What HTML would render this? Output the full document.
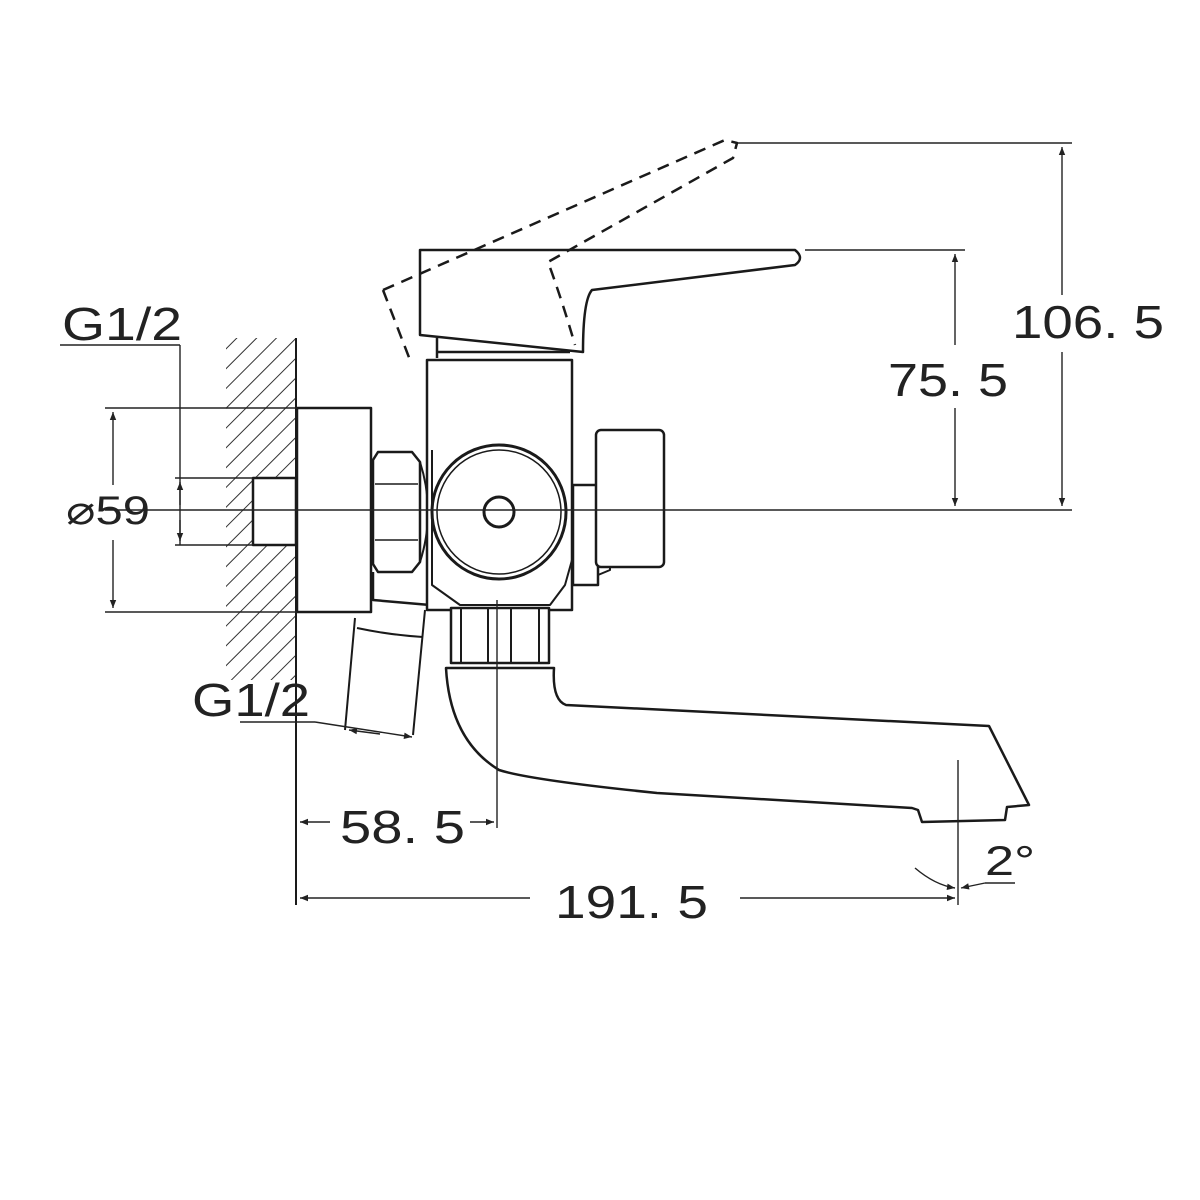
<!DOCTYPE html>
<html><head><meta charset="utf-8"><style>
html,body{margin:0;padding:0;background:#fff;}
svg{display:block;}
text{font-family:"Liberation Sans",sans-serif;fill:#222;}
</style></head><body>
<svg width="1200" height="1200" viewBox="0 0 1200 1200" xmlns="http://www.w3.org/2000/svg">
<defs>
<pattern id="h" patternUnits="userSpaceOnUse" width="14" height="14" patternTransform="rotate(45)">
<line x1="0" y1="0" x2="0" y2="14" stroke="#333" stroke-width="2"/>
</pattern>
<marker id="a" viewBox="0 0 10 10" refX="10" refY="5" markerWidth="12" markerHeight="8" orient="auto-start-reverse" markerUnits="userSpaceOnUse"><path d="M0,1 L10,5 L0,9 z" fill="#222"/></marker>
</defs>
<g stroke="#1a1a1a" fill="none" stroke-width="2.5" stroke-linejoin="round">
<rect x="226" y="338" width="70" height="342" fill="url(#h)" stroke="none"/>
<rect x="253" y="478" width="43" height="67" fill="#fff" stroke="#1a1a1a"/>
<line x1="296" y1="338" x2="296" y2="905" stroke-width="2"/>
<rect x="297" y="408" width="74" height="204" fill="#fff"/>
<path d="M373,460 L378,452 L412,452 L420,462 L420,562 L412,572 L378,572 L373,564 Z" fill="#fff"/>
<line x1="375" y1="484" x2="418" y2="484" stroke-width="1.5"/>
<line x1="375" y1="540" x2="418" y2="540" stroke-width="1.5"/>
<path d="M420,462 Q436,512 420,562" stroke-width="2"/>
<path d="M373,572 L373,600 L430,605 L448,600" />
<path d="M355,618 L345,730 M425,610 L413,735" stroke-width="2"/>
<path d="M357,628 Q390,635 423,637" stroke-width="2"/>
<rect x="427" y="360" width="145" height="250" fill="#fff"/>
<circle cx="499" cy="512" r="67" fill="#fff" stroke-width="3"/>
<circle cx="499" cy="512" r="62" stroke-width="1.5"/>
<circle cx="499" cy="512" r="15" stroke-width="3"/>
<path d="M432,450 L432,585 L460,605 L550,605 L565,585 L572,560" stroke-width="2"/>
<rect x="573" y="485" width="25" height="100" fill="#fff"/>
<path d="M598,494 Q610,505 610,530 L610,570 L598,575" stroke-width="2"/>
<rect x="596" y="430" width="68" height="137" rx="5" fill="#fff"/>
<rect x="451" y="608" width="98" height="55" fill="#fff"/>
<line x1="461" y1="608" x2="461" y2="663" stroke-width="2"/>
<line x1="488" y1="608" x2="488" y2="663" stroke-width="2"/>
<line x1="511" y1="608" x2="511" y2="663" stroke-width="2"/>
<line x1="539" y1="608" x2="539" y2="663" stroke-width="2"/>
<path d="M446,668 L554,668 Q552,700 566,705 L989,726 L1029,805 L1007,807 L1005,820 L922,822 L918,810 L912,808 L657,793 Q530,780 499,770 Q450,740 446,668 Z" fill="#fff"/>
<path d="M420,250 L795,250 Q805,258 795,265 L592,290 Q583,300 583,352 L420,335 Z" fill="#fff"/>
<line x1="437" y1="338" x2="437" y2="358"/>
<line x1="437" y1="352" x2="570" y2="352"/>
<path d="M383,290 L725,140 L737,143 L733,158 L548,262 Q562,300 575,345 M383,290 L410,360" stroke-dasharray="12,8" stroke-width="2.5"/>
</g>
<g stroke="#222" stroke-width="1.4" fill="none">
<line x1="105" y1="510" x2="1072" y2="510"/>
<line x1="738" y1="143" x2="1072" y2="143"/>
<line x1="805" y1="250" x2="965" y2="250"/>
<line x1="955" y1="254" x2="955" y2="345" marker-start="url(#a)"/>
<line x1="955" y1="408" x2="955" y2="506" marker-end="url(#a)"/>
<line x1="1062" y1="147" x2="1062" y2="295" marker-start="url(#a)"/>
<line x1="1062" y1="352" x2="1062" y2="506" marker-end="url(#a)"/>
<line x1="105" y1="408" x2="297" y2="408"/>
<line x1="105" y1="612" x2="297" y2="612"/>
<line x1="113" y1="412" x2="113" y2="485" marker-start="url(#a)"/>
<line x1="113" y1="540" x2="113" y2="608" marker-end="url(#a)"/>
<line x1="60" y1="345" x2="180" y2="345"/>
<line x1="180" y1="345" x2="180" y2="545"/>
<line x1="175" y1="478" x2="253" y2="478"/>
<line x1="175" y1="545" x2="253" y2="545"/>
<line x1="180" y1="482" x2="180" y2="505" marker-start="url(#a)"/>
<line x1="180" y1="520" x2="180" y2="541" marker-end="url(#a)"/>
<line x1="240" y1="722" x2="315" y2="722"/>
<line x1="315" y1="722" x2="412" y2="737" marker-end="url(#a)"/>
<line x1="349" y1="730" x2="380" y2="734" marker-start="url(#a)"/>
<line x1="497" y1="600" x2="497" y2="828"/>
<line x1="300" y1="822" x2="330" y2="822" marker-start="url(#a)"/>
<line x1="470" y1="822" x2="494" y2="822" marker-end="url(#a)"/>
<line x1="300" y1="898" x2="530" y2="898" marker-start="url(#a)"/>
<line x1="740" y1="898" x2="955" y2="898" marker-end="url(#a)"/>
<line x1="958" y1="760" x2="958" y2="905"/>
<path d="M915,868 Q935,885 955,888" marker-end="url(#a)"/>
<line x1="985" y1="883" x2="1015" y2="883"/>
<line x1="985" y1="883" x2="961" y2="888" marker-end="url(#a)"/>
</g>
<g font-size="46">
<text x="62" y="340" textLength="120" lengthAdjust="spacingAndGlyphs">G1/2</text>
<text x="192" y="716" textLength="118" lengthAdjust="spacingAndGlyphs">G1/2</text>
<text x="888" y="396" textLength="120" lengthAdjust="spacingAndGlyphs">75. 5</text>
<text x="1012" y="338" textLength="152" lengthAdjust="spacingAndGlyphs">106. 5</text>
<text x="340" y="843" textLength="125" lengthAdjust="spacingAndGlyphs">58. 5</text>
<text x="555" y="918" textLength="153" lengthAdjust="spacingAndGlyphs">191. 5</text>
<text x="985" y="875" font-size="42" textLength="50" lengthAdjust="spacingAndGlyphs">2°</text>
<text x="66" y="524" font-size="40" textLength="84" lengthAdjust="spacingAndGlyphs">⌀59</text>
</g>
</svg>
</body></html>
